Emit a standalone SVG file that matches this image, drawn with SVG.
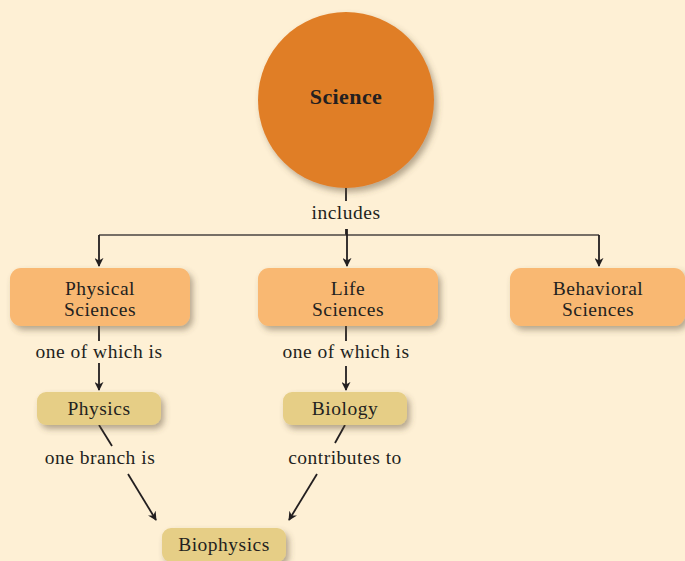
<svg xmlns="http://www.w3.org/2000/svg" width="685" height="561" viewBox="0 0 685 561">
<defs>
<filter id="sh" x="-20%" y="-30%" width="150%" height="180%">
<feDropShadow dx="3" dy="4" stdDeviation="3" flood-color="#5a4a30" flood-opacity="0.45"/>
</filter>
<marker id="ah" viewBox="0 0 10 10" refX="9" refY="5" markerWidth="9" markerHeight="9" markerUnits="userSpaceOnUse" orient="auto">
<path d="M0,0 L10,5 L0,10 L3,5 Z" fill="#231F20"/>
</marker>
<style>
text{font-family:"Liberation Serif","DejaVu Serif",serif;fill:#231F20;text-anchor:middle;font-size:19.5px;letter-spacing:0.5px}
.b{font-weight:bold;font-size:22px;letter-spacing:0.4px}
.c{fill:#F9B872}
.d{fill:#E6CE86}
.ln{stroke:#231F20;stroke-width:1.8;fill:none}
.hl{stroke:#4a4440;stroke-width:1.6;fill:none}
</style>
</defs>
<rect width="685" height="561" fill="#FEF0D5"/>
<g id="connectors">
<line class="ln" x1="346" y1="188" x2="346" y2="201"/>
<text x="346" y="219">includes</text>
<line class="ln" x1="346" y1="229" x2="346" y2="235"/>
<path class="hl" d="M99,235 H599"/>
<line class="ln" x1="99" y1="235" x2="99" y2="266" marker-end="url(#ah)"/>
<line class="ln" x1="347" y1="229" x2="347" y2="266" marker-end="url(#ah)"/>
<line class="ln" x1="599" y1="235" x2="599" y2="266" marker-end="url(#ah)"/>
<line class="ln" x1="99" y1="326" x2="99" y2="341"/>
<text x="99" y="358">one of which is</text>
<line class="ln" x1="99" y1="363" x2="99" y2="390" marker-end="url(#ah)"/>
<line class="ln" x1="346" y1="326" x2="346" y2="341"/>
<text x="346" y="358">one of which is</text>
<line class="ln" x1="346" y1="366" x2="346" y2="390" marker-end="url(#ah)"/>
<line class="ln" x1="99" y1="425" x2="112" y2="446"/>
<text x="100" y="464">one branch is</text>
<line class="ln" x1="128" y1="474" x2="156" y2="520" marker-end="url(#ah)"/>
<line class="ln" x1="345" y1="425" x2="335" y2="443"/>
<text x="345" y="464">contributes to</text>
<line class="ln" x1="317" y1="474" x2="289" y2="520" marker-end="url(#ah)"/>
</g>
<g id="science">
<circle cx="346" cy="100" r="88" fill="#E07E27" filter="url(#sh)"/>
<text class="b" x="346" y="104">Science</text>
</g>
<g id="physical">
<rect class="c" x="10" y="268" width="180" height="58" rx="11" filter="url(#sh)"/>
<text x="100" y="295">Physical</text>
<text x="100" y="316">Sciences</text>
</g>
<g id="life">
<rect class="c" x="258" y="268" width="180" height="58" rx="11" filter="url(#sh)"/>
<text x="348" y="295">Life</text>
<text x="348" y="316">Sciences</text>
</g>
<g id="behavioral">
<rect class="c" x="510" y="268" width="175" height="58" rx="11" filter="url(#sh)"/>
<text x="598" y="295">Behavioral</text>
<text x="598" y="316">Sciences</text>
</g>
<g id="physics">
<rect class="d" x="37" y="392" width="124" height="33" rx="9" filter="url(#sh)"/>
<text x="99" y="415">Physics</text>
</g>
<g id="biology">
<rect class="d" x="283" y="392" width="124" height="33" rx="9" filter="url(#sh)"/>
<text x="345" y="415">Biology</text>
</g>
<g id="biophysics">
<rect class="d" x="162" y="528" width="124" height="34" rx="9" filter="url(#sh)"/>
<text x="224" y="551">Biophysics</text>
</g>
</svg>
